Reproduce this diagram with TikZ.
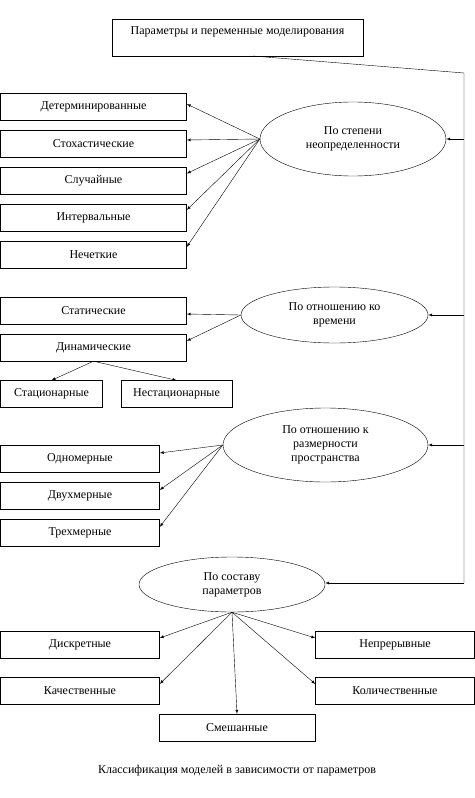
\documentclass[tikz,border=0pt]{standalone}
\usepackage{fontspec}
\setmainfont{Liberation Serif}
\usetikzlibrary{shapes.geometric}

\tikzstyle{box}=[draw,rectangle,inner sep=0pt,minimum height=27pt,font=\fontsize{12}{14}\selectfont]
\tikzstyle{group}=[draw,ellipse,inner sep=0pt,align=center,font=\fontsize{12}{14}\selectfont]
\tikzstyle{arrow}=[draw,-latex,thin]
\tikzstyle{rail}=[draw,thin]

\begin{document}
\begin{tikzpicture}[x=1pt,y=-1pt]
    \useasboundingbox (0,0) rectangle (474,798);
    \node[box,minimum width=251pt,minimum height=37pt,align=center] (top) at (237.5,37.5)
        {Параметры и переменные моделирования\\~};
    % groups
    \node[group,minimum width=186pt,minimum height=74pt] (e1) at (353,139) {По степени\\неопределенности};
    \node[group,minimum width=187pt,minimum height=56pt] (e2) at (334.5,315) {По отношению ко\\времени};
    \node[group,minimum width=205pt,minimum height=74pt] (e3) at (325.5,445) {По отношению к\\размерности\\пространства};
    \node[group,minimum width=186pt,minimum height=55pt] (e4) at (232,584.5) {По составу\\параметров};
    % boxes
    \foreach \pos/\name/\txt in {{(93.5,106.5)/a1/Детерминированные}, {(93.5,143.5)/a2/Стохастические},
                                 {(93.5,180.5)/a3/Случайные}, {(93.5,218)/a4/Интервальные},
                                 {(93.5,255)/a5/Нечеткие}, {(93.5,310.5)/b1/Статические},
                                 {(93.5,347.5)/b2/Динамические}}
        \node[box,minimum width=186pt] (\name) at \pos {\txt};
    \node[box,minimum width=102pt] (b3) at (51.5,394) {Стационарные};
    \node[box,minimum width=111pt] (b4) at (176.5,394) {Нестационарные};
    \foreach \pos/\name/\txt in {{(80,458.5)/c1/Одномерные}, {(80,495.5)/c2/Двухмерные},
                                 {(80,533)/c3/Трехмерные}, {(80,645)/d1/Дискретные},
                                 {(80,691)/d2/Качественные}}
        \node[box,minimum width=159pt] (\name) at \pos {\txt};
    \node[box,minimum width=159pt] (d3) at (395,645) {Непрерывные};
    \node[box,minimum width=159pt] (d4) at (395,691) {Количественные};
    \node[box,minimum width=156pt] (d5) at (237,727.5) {Смешанные};
    \node[font=\fontsize{12}{14}\selectfont] (cap) at (237,771) {Классификация моделей в зависимости от параметров};
    % rail on the right
    \coordinate (t) at (253,56);
    \coordinate (r1) at (464,73);
    \coordinate (r4) at (464,583);
    \path[rail] (t) -- (r1) -- (r4);
    \foreach \e in {e1,e2,e3}
        \path[arrow] (\e.east -| r1) -- (\e.east);
    \path[arrow] (r4) -- (r4 -| e4.east);
    \foreach \source/ \dest/\dy in {e1/a1/2.5, e1/a2/3.5, e1/a3/7, e1/a4/8, e1/a5/8,
                                    e2/b1/-3.5, e2/b2/6.5, e3/c1/5.5, e3/c2/5.5, e3/c3/6}
        \path[arrow] (\source.west) -- ([yshift=\dy pt]\dest.east);
    \path[arrow] (b2.south) -- (b3.north);
    \path[arrow] (b2.south) -- (b4.north);
    \foreach \dest in {d1,d2}
        \path[arrow] (e4.south) -- ([yshift=7pt]\dest.east);
    \foreach \dest in {d3,d4}
        \path[arrow] (e4.south) -- ([yshift=7pt]\dest.west);
    \path[arrow] (e4.south) -- (d5.north);
\end{tikzpicture}
\end{document}
